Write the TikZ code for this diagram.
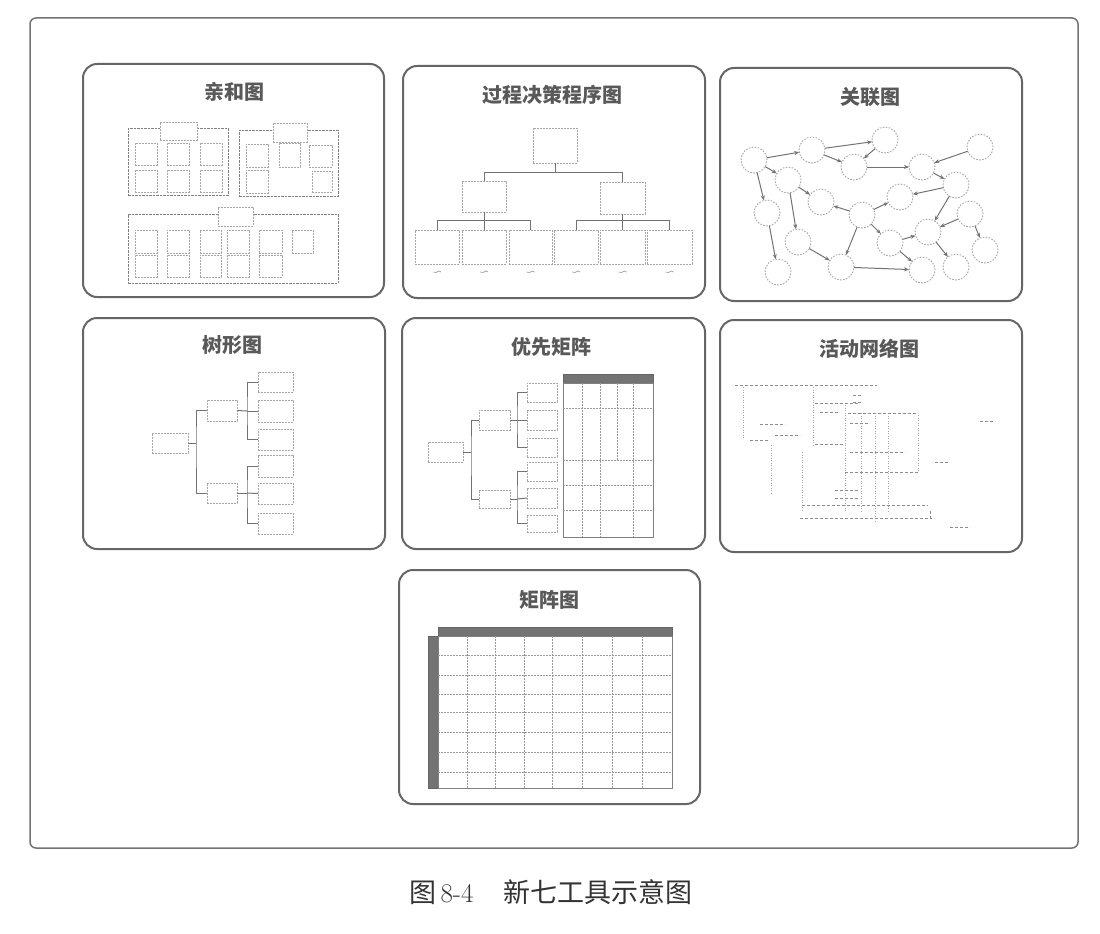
\documentclass[tikz,border=0pt]{standalone}
\usepackage{fontspec}
\newfontfamily\cjk{Noto Sans CJK SC}
\usetikzlibrary{arrows.meta}
\newcommand\nb[6]{\node[#1,inner sep=0pt,outer sep=0pt,minimum width={#5-#3},minimum height={#6-#4}] (#2) at ({(#3+#5)/2},{(#4+#6)/2}) {};}
\begin{document}
\begin{tikzpicture}[x=1pt,y=-1pt,
  frame/.style={draw=black!55, line width=1.5pt, rounded corners=6pt},
  panel/.style={draw=black!60, line width=2pt, rounded corners=14pt},
  ttl/.style={font=\cjk\bfseries\fontsize{20}{20}\selectfont, text=black!65, inner sep=0pt},
  dbox/.style={draw=black!35, dash pattern=on 1.6pt off 1.4pt, line width=0.9pt, fill=white},
  grp/.style={draw=black!50, dash pattern=on 2.5pt off 1pt, line width=1pt},
  tl/.style={draw=black!55, line width=1pt},
  circ/.style={circle, draw=black!35, dash pattern=on 1.6pt off 1.4pt, line width=0.9pt, minimum size=26pt, inner sep=0pt, outer sep=0pt},
  arr/.style={draw=black!55, line width=1pt, -{Stealth[length=5pt,width=4pt]}},
  gridl/.style={draw=black!40, line width=0.8pt, dash pattern=on 2pt off 1pt},
  adot/.style={draw=black!35, line width=0.8pt, dash pattern=on 1pt off 1.5pt},
  amark/.style={draw=black!45, line width=0.8pt, dash pattern=on 3pt off 2pt},
  bar/.style={fill=black!55, draw=black!60, line width=0.5pt},
]
\useasboundingbox (0,0) rectangle (1100,934);
\fill[white] (0,0) rectangle (1100,934);
\nb{frame}{F}{30}{18}{1078}{848}

% panels
\nb{panel}{P1}{83}{64}{384}{297}
\nb{panel}{P2}{403}{66}{705}{298}
\nb{panel}{P3}{720}{68}{1022}{301}
\nb{panel}{P4}{83}{318}{385}{549}
\nb{panel}{P5}{402}{318}{705}{549}
\nb{panel}{P6}{720}{320}{1022}{552}
\nb{panel}{P7}{399}{570}{700}{804}

% titles
\node[ttl] (T1) at (234,92) {亲和图};
\node[ttl] (T2) at (552,95) {过程决策程序图};
\node[ttl] (T3) at (870,97) {关联图};
\node[ttl] (T4) at (232,345) {树形图};
\node[ttl] (T5) at (551,347) {优先矩阵};
\node[ttl] (T6) at (869,349) {活动网络图};
\node[ttl] (T7) at (549,600) {矩阵图};

% ---------- panel 1: affinity diagram
\nb{grp}{GA}{128}{128}{228}{195}
\nb{dbox}{a0}{160}{122}{197}{140}
\nb{dbox}{a1}{135}{143}{157}{165}
\nb{dbox}{a2}{167}{143}{189}{165}
\nb{dbox}{a3}{200}{143}{222}{165}
\nb{dbox}{a4}{135}{170}{157}{192}
\nb{dbox}{a5}{167}{170}{189}{192}
\nb{dbox}{a6}{200}{170}{222}{192}
\nb{grp}{GB}{239}{130}{338}{196}
\nb{dbox}{b0}{273}{123}{307}{142}
\nb{dbox}{b1}{246}{144}{268}{167}
\nb{dbox}{b2}{279}{143}{300}{167}
\nb{dbox}{b3}{309}{145}{332}{167}
\nb{dbox}{b4}{246}{170}{268}{193}
\nb{dbox}{b5}{312}{171}{332}{192}
\nb{grp}{GC}{128}{214}{338}{283}
\nb{dbox}{c0}{218}{207}{253}{226}
\nb{dbox}{c1}{135}{230}{157}{253}
\nb{dbox}{c2}{167}{230}{189}{253}
\nb{dbox}{c3}{200}{230}{221}{253}
\nb{dbox}{c4}{227}{230}{249}{253}
\nb{dbox}{c5}{259}{230}{282}{253}
\nb{dbox}{c6}{292}{230}{313}{253}
\nb{dbox}{c7}{135}{255}{157}{277}
\nb{dbox}{c8}{167}{255}{189}{277}
\nb{dbox}{c9}{200}{255}{221}{277}
\nb{dbox}{c10}{227}{255}{249}{277}
\nb{dbox}{c11}{259}{255}{282}{277}

% ---------- panel 2: PDPC
\nb{dbox}{p0}{533}{128}{577}{163}
\nb{dbox}{p1}{462}{181}{506}{212}
\nb{dbox}{p2}{600}{182}{645}{214}
\nb{dbox}{q1}{415}{230}{459}{264}
\nb{dbox}{q2}{462}{230}{506}{264}
\nb{dbox}{q3}{509}{230}{552}{264}
\nb{dbox}{q4}{554}{230}{598}{264}
\nb{dbox}{q5}{600}{230}{645}{264}
\nb{dbox}{q6}{647}{230}{692}{264}
\draw[tl] (p0.south) -- ++(0,9);
\draw[tl] (p1.north) -- ++(0,-9) -| (p2.north);
\draw[tl] (p1.south) -- ++(0,8);
\draw[tl] (q1.north) -- ++(0,-10) -| (q3.north);
\draw[tl] (q2.north) -- ++(0,-10);
\draw[tl] (p2.south) -- ++(0,6);
\draw[tl] (q4.north) -- ++(0,-10) -| (q6.north);
\draw[tl] (q5.north) -- ++(0,-10);
\foreach \q in {q1,q2,q3,q4,q5,q6}
  \draw[draw=black!35, line width=0.7pt] ([xshift=-4pt,yshift=-8pt]\q.south) -- ++(3,0.5) -- ++(3,-1.5) -- ++(2,1);

% ---------- panel 3: interrelationship digraph
\foreach \n/\x/\y in {1/754/160,2/812/150,3/885/140,4/854/167,5/980/147,6/922/167,7/956/185,
  8/788/180,9/767/213,10/821/202,11/900/197,12/862/215,13/970/214,14/798/242,15/890/243,
  16/928/232,17/985/250,18/778/272,19/841/267,20/922/270,21/956/267}
  \node[circ] (g\n) at (\x,\y) {};
\foreach \a/\b in {1/2,2/3,3/4,2/4,4/6,5/6,6/7,7/11,12/11,1/8,1/9,8/10,8/14,12/10,9/18,
  14/19,12/19,12/15,19/20,15/16,15/20,7/16,13/16,13/17,16/21}
  \draw[arr] (g\a) -- (g\b);

% ---------- panel 4: tree diagram
\nb{dbox}{t0}{152}{433}{188}{453}
\nb{dbox}{ta}{207}{400}{237}{421}
\nb{dbox}{tb}{207}{483}{237}{503}
\nb{dbox}{t1}{258}{372}{293}{392}
\nb{dbox}{t2}{258}{400}{293}{422}
\nb{dbox}{t3}{258}{429}{293}{450}
\nb{dbox}{t4}{258}{455}{293}{477}
\nb{dbox}{t5}{258}{483}{293}{504}
\nb{dbox}{t6}{258}{513}{293}{534}
\coordinate (k0) at (196,443);
\coordinate (k1) at (247,411);
\coordinate (k2) at (247,493);
\draw[tl] (t0.east) -- (k0);
\draw[tl] (ta.west) -| (k0) |- (tb.west);
\draw[tl] (ta.east) -- (k1);
\draw[tl] (t1.west) -| (k1) |- (t3.west);
\draw[tl] (k1) -- (t2.west);
\draw[tl] (tb.east) -- (k2);
\draw[tl] (t4.west) -| (k2) |- (t6.west);
\draw[tl] (k2) -- (t5.west);

% ---------- panel 5: prioritization matrix
\nb{dbox}{s0}{428}{442}{463}{462}
\nb{dbox}{sa}{479}{410}{510}{430}
\nb{dbox}{sb}{479}{490}{510}{508}
\nb{dbox}{s1}{527}{383}{557}{402}
\nb{dbox}{s2}{527}{410}{557}{430}
\nb{dbox}{s3}{527}{438}{557}{457}
\nb{dbox}{s4}{527}{462}{557}{481}
\nb{dbox}{s5}{527}{488}{557}{508}
\nb{dbox}{s6}{527}{515}{557}{532}
\coordinate (k3) at (471,452);
\coordinate (k4) at (517,420);
\coordinate (k5) at (517,499);
\draw[tl] (s0.east) -- (k3);
\draw[tl] (sa.west) -| (k3) |- (sb.west);
\draw[tl] (sa.east) -- (k4);
\draw[tl] (s1.west) -| (k4) |- (s3.west);
\draw[tl] (k4) -- (s2.west);
\draw[tl] (sb.east) -- (k5);
\draw[tl] (s4.west) -| (k5) |- (s6.west);
\draw[tl] (k5) -- (s5.west);
\nb{bar}{MH}{563}{374}{653}{383}
\nb{draw=black!50,line width=0.9pt}{MT}{563}{383}{653}{537}
\foreach \x in {582,600,633} \draw[gridl] (\x,383) -- (\x,537);
\draw[gridl] (617,383) -- (617,460);
\foreach \y in {408,460,485,510} \draw[gridl] (563,\y) -- (653,\y);

% ---------- panel 6: activity network (scene)
\draw[amark] (735,385) -- (877,385);
\draw[adot] (743,387) -- (743,438);
\draw[adot] (813,387) -- (813,445);
\draw[adot] (845,405) -- (845,512);
\draw[adot] (861,413) -- (861,512);
\draw[adot] (875,413) -- (875,522);
\draw[adot] (888,413) -- (888,512);
\draw[adot] (918,415) -- (918,472);
\draw[adot] (771,445) -- (771,495);
\draw[adot] (802,452) -- (802,512);
\draw[amark] (848,413) -- (918,413);
\draw[amark] (815,403) -- (858,403);
\draw[amark] (802,505) -- (928,505);
\draw[amark] (800,518) -- (932,518);
\draw[amark] (845,472) -- (918,472);
\draw[amark] (850,452) -- (905,452);
\draw[amark] (815,444) -- (845,444);
\draw[amark] (760,424) -- (785,424);
\draw[amark] (750,440) -- (770,440);
\draw[amark] (775,435) -- (800,435);
\draw[amark] (820,412) -- (840,412);
\draw[amark] (850,423) -- (870,423);
\draw[amark] (835,490) -- (860,490);
\draw[amark] (835,498) -- (860,498);
\draw[amark] (935,462) -- (948,462);
\draw[amark] (980,421) -- (995,421);
\draw[amark] (950,527) -- (970,527);
\draw[amark] (930,511) -- (930,520);
\draw[amark] (853,395) -- (862,395);
\draw[amark] (853,402) -- (862,402);

% ---------- panel 7: matrix diagram
\nb{bar}{NH}{438}{627}{672}{636}
\nb{bar}{NL}{428}{636}{438}{788}
\nb{draw=black!50,line width=0.9pt}{NT}{438}{636}{672}{788}
\foreach \x in {467,495,524,552,582,612,642} \draw[gridl] (\x,636) -- (\x,788);
\foreach \y in {655,675,694,712,732,752,772} \draw[gridl] (438,\y) -- (672,\y);

% caption
\node[font=\fontsize{27}{27}\selectfont, text=black!80, inner sep=0pt] (CAP) at (551,892)
  {{\cjk 图}\hspace{4pt}8-4\hspace{30pt}{\cjk 新七工具示意图}};
\end{tikzpicture}
\end{document}
